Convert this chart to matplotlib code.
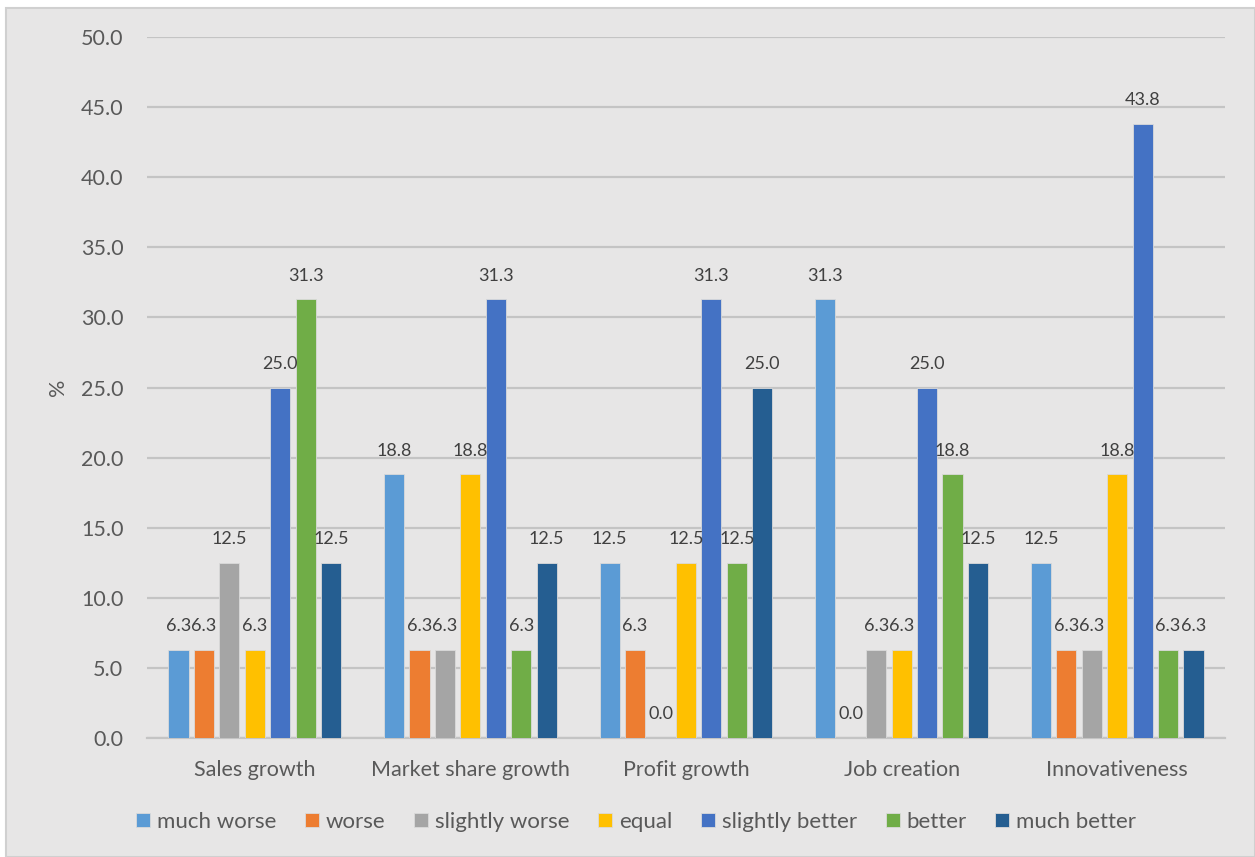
import numpy as np
import matplotlib.pyplot as plt
from matplotlib.patches import Rectangle

plt.rcParams['font.family'] = ['Lato', 'DejaVu Sans']

categories = ['Sales growth', 'Market share growth', 'Profit growth',
              'Job creation', 'Innovativeness']
series = ['much worse', 'worse', 'slightly worse', 'equal',
          'slightly better', 'better', 'much better']

much_worse = [6.3, 18.8, 12.5, 31.3, 12.5]
worse = [6.3, 6.3, 6.3, 0.0, 6.3]
slightly_worse = [12.5, 6.3, 0.0, 6.3, 6.3]
equal = [6.3, 18.8, 12.5, 6.3, 18.8]
slightly_better = [25.0, 31.3, 31.3, 25.0, 43.8]
better = [31.3, 6.3, 12.5, 18.8, 6.3]
much_better = [12.5, 12.5, 25.0, 12.5, 6.3]

values = [much_worse, worse, slightly_worse, equal,
          slightly_better, better, much_better]
colors = ['#5B9BD5', '#ED7D31', '#A5A5A5', '#FFC000',
          '#4472C4', '#70AD47', '#255E91']

txt = '#595959'
bg = '#E7E6E6'

fig = plt.figure(figsize=(12.55, 8.57), dpi=100, facecolor='white')
# chart area background with thin border, white strip top/left
fig.patches.append(Rectangle((6 / 1255, 0), 1 - 6 / 1255, 1 - 8 / 857,
                             transform=fig.transFigure, facecolor=bg,
                             edgecolor='#D0D0D0', linewidth=1.5, zorder=-10))

ax = fig.add_axes([147 / 1255, 1 - 738 / 857, (1225 - 147) / 1255, (738 - 37) / 857])
ax.patch.set_alpha(0)

x = np.arange(len(categories))
slot = 0.118
width = 0.093
for i, (name, vals, c) in enumerate(zip(series, values, colors)):
    pos = x + (i - 3) * slot
    ax.bar(pos, vals, width, color=c, label=name, zorder=3,
           edgecolor='#DADADA', linewidth=0.6)
    for xp, v in zip(pos, vals):
        ax.annotate(f'{v:.1f}', (xp, v), xytext=(0, 17), textcoords='offset points',
                    ha='center', va='center', fontsize=13, color='#404040', zorder=4)

ax.set_ylim(0, 50)
ax.set_xlim(-0.5, len(categories) - 0.5)
ax.set_yticks(np.arange(0, 50.1, 5))
ax.set_yticklabels([f'{t:.1f}' for t in np.arange(0, 50.1, 5)])
ax.yaxis.grid(True, color='#C4C4C4', linewidth=1.6, zorder=0)
ax.set_axisbelow(True)
ax.set_xticks(x)
ax.set_xticklabels(categories)
ax.tick_params(axis='y', length=0, pad=17, labelsize=15.5, labelcolor=txt)
ax.tick_params(axis='x', length=0, pad=16, labelsize=15.5, labelcolor=txt)
for s in ['top', 'right', 'left']:
    ax.spines[s].set_visible(False)
ax.spines['bottom'].set_color('#C4C4C4')
ax.spines['bottom'].set_linewidth(1.6)

ax.set_ylabel('%', fontsize=15.5, color=txt, labelpad=9)

fig.legend(loc='center', bbox_to_anchor=(636 / 1255, 1 - 822 / 857), ncol=7,
           frameon=False, fontsize=16, labelcolor=txt,
           handlelength=0.63, handleheight=0.63, handletextpad=0.3,
           columnspacing=1.3)

fig.savefig('out.png', dpi=100, facecolor='white')
